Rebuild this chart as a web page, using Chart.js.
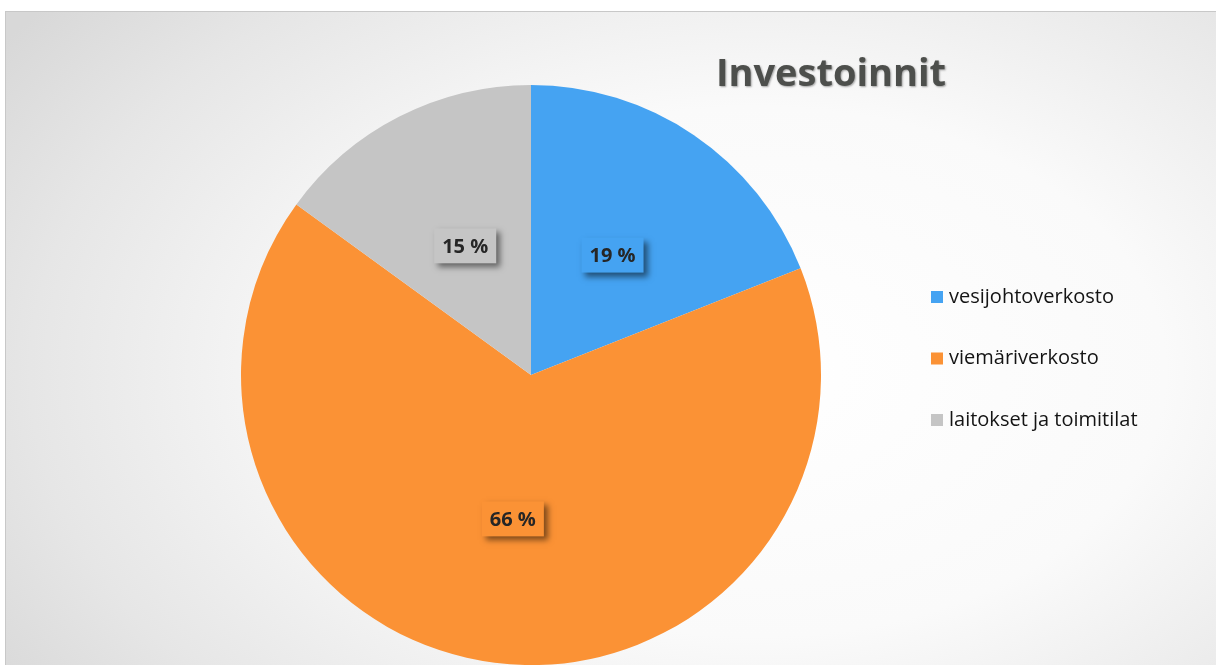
<!DOCTYPE html>
<html>
<head>
<meta charset="utf-8">
<script src="https://cdn.jsdelivr.net/npm/chart.js@4.4.1/dist/chart.umd.min.js"></script>
<style>
  html, body { margin: 0; padding: 0; background: #fff; }
  #wrap {
    position: absolute; left: 5px; top: 11px; width: 1211px; height: 654px;
    border-left: 1px solid #c8c8c8; border-top: 1px solid #c8c8c8;
    background: radial-gradient(ellipse 75% 90% at 62% 55%, #ffffff 0%, #fafafa 45%, #e6e6e6 80%, #d8d8d8 100%);
  }
  #c { position: absolute; left: 0; top: 0; }
</style>
</head>
<body>
<div id="wrap"></div>
<canvas id="c" width="1216" height="665"></canvas>
<script>
const title = "Investoinnit";
const categories = ["vesijohtoverkosto", "viemäriverkosto", "laitokset ja toimitilat"];
const values = [19, 66, 15];
const labelTexts = ["19 %", "66 %", "15 %"];
const colors = ["#45a3f2", "#fb9235", "#c5c5c5"];

const FONT = "'Open Sans', 'Noto Sans', sans-serif";

const decor = {
  id: 'decor',
  afterDatasetsDraw(chart) {
    const ctx = chart.ctx;
    const meta = chart.getDatasetMeta(0);
    // data labels
    meta.data.forEach((arc, i) => {
      const p = arc.tooltipPosition();
      ctx.save();
      ctx.font = "bold 20px " + FONT;
      const t = labelTexts[i];
      const w = ctx.measureText(t).width + 16;
      const h = 35;
      ctx.shadowColor = 'rgba(0,0,0,0.5)';
      ctx.shadowBlur = 6;
      ctx.shadowOffsetX = 4;
      ctx.shadowOffsetY = 4;
      ctx.fillStyle = colors[i];
      ctx.fillRect(p.x - w / 2, p.y - h / 2, w, h);
      ctx.restore();
      ctx.save();
      ctx.font = "bold 20px " + FONT;
      ctx.fillStyle = '#262626';
      ctx.textAlign = 'center';
      ctx.textBaseline = 'middle';
      ctx.fillText(t, p.x, p.y + 1);
      ctx.restore();
    });
    // title
    ctx.save();
    ctx.font = "bold 38px " + FONT;
    ctx.textAlign = 'center';
    ctx.textBaseline = 'alphabetic';
    ctx.shadowColor = 'rgba(0,0,0,0.35)';
    ctx.shadowBlur = 2;
    ctx.shadowOffsetX = 1;
    ctx.shadowOffsetY = 1;
    ctx.fillStyle = '#4d4f4c';
    ctx.fillText(title, 831, 86);
    ctx.restore();
    // legend
    ctx.save();
    ctx.font = "20px " + FONT;
    ctx.textBaseline = 'middle';
    categories.forEach((c, i) => {
      const y = 297 + i * 61.5;
      ctx.fillStyle = colors[i];
      ctx.fillRect(931, y - 6, 12, 12);
      ctx.fillStyle = '#141414';
      ctx.fillText(c, 949, y);
    });
    ctx.restore();
  }
};

new Chart(document.getElementById('c'), {
  type: 'pie',
  data: {
    labels: categories,
    datasets: [{
      data: values,
      backgroundColor: colors,
      borderWidth: 0
    }]
  },
  options: {
    responsive: false,
    animation: false,
    layout: { padding: { top: 85, bottom: 0, left: 0, right: 154 } },
    plugins: {
      legend: { display: false },
      title: { display: false },
      tooltip: { enabled: false }
    }
  },
  plugins: [decor]
});
</script>
</body>
</html>
